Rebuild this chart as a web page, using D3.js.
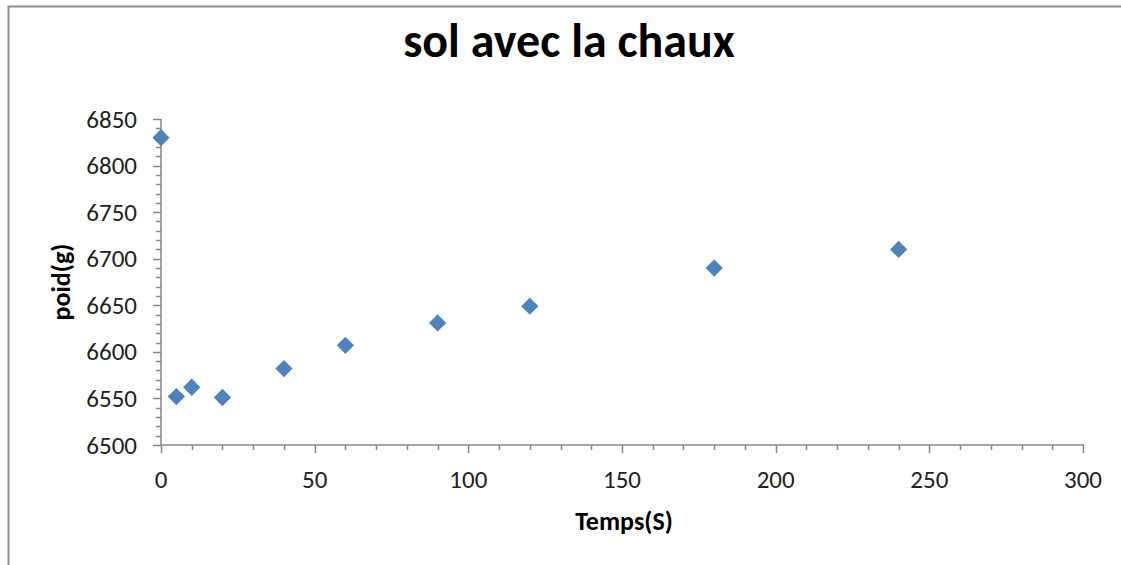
<!DOCTYPE html>
<html>
<head>
<meta charset="utf-8">
<script src="https://cdn.jsdelivr.net/npm/d3@7"></script>
<style>
  body { margin: 0; background: #fff; }
  text { font-family: Carlito, Lato, "Open Sans", sans-serif; }
</style>
</head>
<body>
<div id="chart"></div>
<script>
// data
var temps = [0, 5, 10, 20, 40, 60, 90, 120, 180, 240];
var poids = [6830, 6552, 6562, 6551, 6582, 6607, 6631, 6649, 6690, 6710];
var xTicks = [0, 50, 100, 150, 200, 250, 300];
var yTicks = [6500, 6550, 6600, 6650, 6700, 6750, 6800, 6850];

var W = 1121, H = 565;
var plotLeft = 161, plotRight = 1083, plotTop = 119, plotBottom = 445;

var svg = d3.select("#chart").append("svg")
    .attr("width", W)
    .attr("height", H);

// outer frame (only top and left visible)
svg.append("path")
    .attr("d", "M8.5," + H + "V6.5H" + W)
    .attr("fill", "none")
    .attr("stroke", "#8c8c8c")
    .attr("stroke-width", 2);

var x = d3.scaleLinear().domain([0, 300]).range([plotLeft, plotRight]);
var y = d3.scaleLinear().domain([6500, 6850]).range([plotBottom, plotTop]);

var axisColor = "#868686";

// minor ticks every 10
var xMinor = d3.range(0, 301, 10);
var yMinor = d3.range(6500, 6851, 10);

var xAxisG = svg.append("g").attr("transform", "translate(0," + plotBottom + ")");
xAxisG.selectAll(".minor").data(xMinor).enter().append("line")
    .attr("x1", function(d){ return Math.round(x(d)) + 0.5; })
    .attr("x2", function(d){ return Math.round(x(d)) + 0.5; })
    .attr("y1", 0)
    .attr("y2", function(d){ return d % 50 == 0 ? 8 : 5; })
    .attr("stroke", axisColor)
    .attr("stroke-width", 1.5);
xAxisG.append("line")
    .attr("x1", plotLeft).attr("x2", plotRight + 1)
    .attr("y1", 0).attr("y2", 0)
    .attr("stroke", axisColor)
    .attr("stroke-width", 1.5);
xAxisG.selectAll(".lbl").data(xTicks).enter().append("text")
    .attr("x", function(d){ return x(d); })
    .attr("y", 43)
    .attr("text-anchor", "middle")
    .style("font-size", "25px")
    .attr("fill", "#222")
    .text(function(d){ return d; });

var yAxisG = svg.append("g").attr("transform", "translate(" + plotLeft + ",0)");
yAxisG.selectAll(".minor").data(yMinor).enter().append("line")
    .attr("y1", function(d){ return Math.round(y(d)) + 0.5; })
    .attr("y2", function(d){ return Math.round(y(d)) + 0.5; })
    .attr("x1", 0)
    .attr("x2", function(d){ return d % 50 == 0 ? -8 : -5; })
    .attr("stroke", axisColor)
    .attr("stroke-width", 1.5);
yAxisG.append("line")
    .attr("x1", 0).attr("x2", 0)
    .attr("y1", plotTop).attr("y2", plotBottom)
    .attr("stroke", axisColor)
    .attr("stroke-width", 1.5);
yAxisG.selectAll(".lbl").data(yTicks).enter().append("text")
    .attr("x", -24)
    .attr("y", function(d){ return y(d) + 8.5; })
    .attr("text-anchor", "end")
    .style("font-size", "25px")
    .attr("fill", "#222")
    .text(function(d){ return d; });

// diamonds
var diamond = d3.symbol().type(d3.symbolDiamond2).size(190);
svg.selectAll(".pt").data(temps).enter().append("path")
    .attr("d", diamond)
    .attr("transform", function(d, i){ return "translate(" + x(d) + "," + y(poids[i]) + ")"; })
    .attr("fill", "#4f81bd");

// titles
svg.append("text")
    .attr("x", 569)
    .attr("y", 57)
    .attr("text-anchor", "middle")
    .style("font-size", "48px")
    .style("font-weight", "bold")
    .text("sol avec la chaux");

svg.append("text")
    .attr("x", 624)
    .attr("y", 530)
    .attr("text-anchor", "middle")
    .style("font-size", "26px")
    .style("font-weight", "bold")
    .text("Temps(S)");

svg.append("text")
    .attr("transform", "translate(70,282) rotate(-90)")
    .attr("text-anchor", "middle")
    .style("font-size", "26px")
    .style("font-weight", "bold")
    .text("poid(g)");
</script>
</body>
</html>
